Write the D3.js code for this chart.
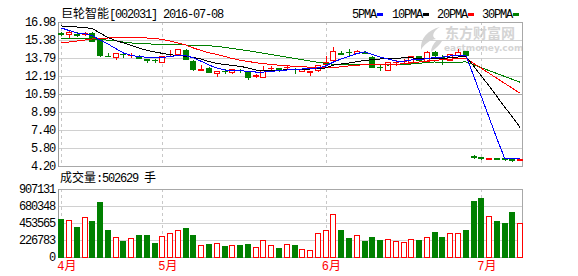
<!DOCTYPE html>
<html>
<head>
<meta charset="utf-8">
<script src="https://cdn.jsdelivr.net/npm/d3@7/dist/d3.min.js"></script>
<style>
  body { margin: 0; background: #fff; }
  svg { display: block; }
  text { font-family: "Liberation Mono", "Noto Sans CJK SC", monospace; font-size: 12px; }
  .num { letter-spacing: -1.2px; }
</style>
</head>
<body>
<div class="chart"></div>
<script>
// daily candles 2016-04-13 .. 2016-07-08 (ex-rights drop on 06-30)
var openP  = [15.97,15.89,15.88,15.95,16.03,15.52,13.94,13.90,14.15,14.02, 14.00,13.67,13.62,13.47,13.94,14.10,14.52,13.55,12.76,12.90,
              12.41,12.65,12.52,12.74,12.54,12.22,12.14,12.88,12.87,12.97, 12.83,12.63,12.58,12.68,13.21,13.61,14.21,14.33,14.23,14.36,
              13.87,13.01,12.75,13.41,13.50,13.43,13.94,13.56,14.36,13.87, 13.65,14.01,14.38,5.06,4.97,4.81,4.93,4.87,4.78,4.76];
var highP  = [16.05,16.18,16.05,16.05,16.09,15.60,14.23,14.22,14.30,14.20, 14.05,13.70,13.70,13.96,14.50,14.60,14.58,13.60,13.12,12.95,
              12.63,12.81,12.80,12.85,12.58,12.37,13.08,13.05,12.88,13.12, 12.90,12.80,12.63,13.20,13.94,14.76,14.38,14.54,14.48,14.40,
              13.92,13.23,13.42,13.61,13.70,14.00,13.97,14.41,14.40,14.01, 14.16,14.56,14.42,5.15,5.00,4.92,4.95,4.90,4.82,4.82];
var lowP   = [15.85,15.65,15.74,15.86,15.29,13.96,13.92,13.74,13.90,13.88, 13.75,13.40,13.45,13.45,13.94,14.05,13.72,12.72,12.76,12.50,
              12.23,12.43,12.48,12.58,11.95,12.10,12.12,12.75,12.63,12.78, 12.45,12.60,12.28,12.65,13.18,13.58,14.14,14.05,14.20,14.22,
              12.99,12.68,12.72,13.16,13.23,13.40,13.60,13.52,13.97,13.25, 13.62,13.99,13.99,4.90,4.86,4.80,4.84,4.75,4.68,4.74];
var closeP = [15.95,16.09,15.86,15.97,15.32,14.05,13.92,14.20,14.12,14.05, 13.79,13.65,13.58,13.94,13.97,14.58,13.74,12.81,12.79,12.54,
              12.61,12.62,12.77,12.71,12.10,12.26,12.68,12.92,12.85,13.01, 12.80,12.78,12.61,13.16,13.43,14.45,14.18,14.30,14.45,14.26,
              13.03,12.98,13.39,13.45,13.53,13.96,13.65,14.32,14.01,13.85, 14.14,14.36,14.03,5.03,4.88,4.88,4.86,4.80,4.76,4.80];
var volume = [511000,494000,405000,534000,485000,738000,365000,267000,218000,253000, 298000,298000,191000,280000,320000,360000,391000,298000,160000,178000,
              187000,151000,160000,160000,178000,133000,227000,160000,125000,173000, 165000,107000,93000,320000,360000,578000,365000,258000,294000,218000,
              271000,231000,240000,218000,205000,240000,231000,267000,338000,271000, 325000,325000,365000,752000,792000,547000,485000,449000,605000,460000];

// moving averages as drawn
var ma5  = [16.45,16.23,16.00,15.94,15.78,15.38,15.03,14.63,14.23,14.01, 13.92,13.85,13.79,13.83,13.92,14.01,14.01,13.79,13.49,13.16,
            12.90,12.72,12.69,12.66,12.60,12.54,12.54,12.59,12.68,12.72, 12.76,12.81,12.85,12.90,13.08,13.43,13.70,13.94,14.18,14.32,
            14.10,13.87,13.70,13.52,13.49,13.61,13.65,13.72,13.83,13.87, 13.96,14.03,14.05,12.23,10.37,8.51,6.64,4.89,4.86,4.84];
var ma10 = [16.63,16.58,16.54,16.49,16.40,16.00,15.60,15.34,15.12,14.89, 14.67,14.47,14.32,14.20,14.07,14.01,13.94,13.83,13.70,13.47,
            13.31,13.21,13.12,13.05,12.90,12.72,12.66,12.68,12.70,12.74, 12.76,12.78,12.81,12.84,12.90,13.16,13.25,13.34,13.46,13.58,
            13.63,13.70,13.74,13.77,13.79,13.79,13.76,13.72,13.70,13.74, 13.81,13.87,13.94,13.08,12.19,11.30,10.37,9.44,8.55,7.60];
var ma20 = [15.12,15.20,15.29,15.38,15.47,15.52,15.56,15.60,15.62,15.62, 15.62,15.56,15.52,15.43,15.29,15.12,14.94,14.67,14.45,14.25,
            14.10,13.92,13.74,13.59,13.48,13.37,13.28,13.21,13.15,13.09, 13.05,13.01,12.97,12.94,12.93,12.94,13.01,13.08,13.14,13.19,
            13.19,13.19,13.21,13.23,13.27,13.34,13.43,13.52,13.58,13.63, 13.68,13.72,13.76,13.31,12.87,12.43,11.98,11.54,11.10,10.65];
var ma30 = [15.49,15.49,15.49,15.48,15.47,15.43,15.37,15.31,15.20,15.12, 15.09,15.05,15.01,14.98,14.97,14.96,14.94,14.91,14.89,14.87,
            14.82,14.73,14.63,14.54,14.43,14.32,14.20,14.10,13.98,13.86, 13.74,13.63,13.52,13.40,13.30,13.23,13.21,13.23,13.23,13.25,
            13.23,13.19,13.16,13.18,13.21,13.25,13.31,13.40,13.43,13.40, 13.39,13.40,13.45,13.19,12.92,12.67,12.41,12.15,11.89,11.63];

var priceTicks = [4.20, 5.80, 7.40, 8.99, 10.59, 12.19, 13.79, 15.38, 16.98];
var volTicks = [0, 226783, 453565, 680348, 907131];
var monthLabels = ["4月", "5月", "6月", "7月"];
var monthStart = [0, 13, 34, 54];

var n = closeP.length;

// dimensions
var width = 578, height = 276;
var plot = {left: 58, right: 522, top: 22, bottom: 166};
var vol = {top: 189, bottom: 257};

var red = "#ff0000", green = "#008000";

// scales
var x = d3.scaleBand().domain(d3.range(n)).range([57.3, 524.1]);
var cx = function(i) { return x(i) + x.bandwidth() / 2; };
var y = d3.scaleLinear().domain([4.20, 16.98]).range([plot.bottom, plot.top]);
var yv = d3.scaleLinear().domain([0, 907131]).range([vol.bottom, vol.top]);
var px = function(v) { return Math.round(v) + 0.5; };

var svg = d3.select(".chart").append("svg")
  .attr("width", width)
  .attr("height", height);

// watermark
var wm = svg.append("g").attr("fill", "#d4d4d4");
wm.append("path")
  .attr("d", "M440,27 C428,30 420,38 421,50 C424,44 430,40 436,39 C431,37 433,31 440,27 Z M437,40 C433,44 431,48 431,52 C436,48 440,45 442,41 Z");
wm.append("text").attr("x", 445).attr("y", 38)
  .style("font-family", "Noto Sans CJK SC").style("font-size", "14px").style("font-weight", "bold")
  .text("东方财富网");
wm.append("text").attr("x", 444).attr("y", 51)
  .style("font-family", "DejaVu Sans").style("font-size", "9px").style("font-weight", "bold")
  .text("eastmoney.com");

// grid lines
var grid = svg.append("g").attr("shape-rendering", "crispEdges");
grid.selectAll(".pg")
  .data(priceTicks.slice(1, -1))
  .enter().append("line")
  .attr("x1", plot.left).attr("x2", plot.right)
  .attr("y1", function(d) { return px(y(d)); })
  .attr("y2", function(d) { return px(y(d)); })
  .attr("stroke", function(d) { return d === 10.59 ? "#a8a8a8" : "#d0d0d0"; });
grid.selectAll(".vg")
  .data(volTicks.slice(1, -1))
  .enter().append("line")
  .attr("x1", plot.left).attr("x2", plot.right)
  .attr("y1", function(d) { return px(yv(d)); })
  .attr("y2", function(d) { return px(yv(d)); })
  .attr("stroke", "#d0d0d0");

// month separators
monthStart.forEach(function(i) {
  [[plot.top, plot.bottom], [vol.top, vol.bottom]].forEach(function(r) {
    grid.append("line")
      .attr("x1", px(cx(i))).attr("x2", px(cx(i)))
      .attr("y1", r[0]).attr("y2", r[1])
      .attr("stroke", "#c8c8c8")
      .attr("stroke-dasharray", "3,3");
  });
});

// frames
[[plot.top, plot.bottom], [vol.top, vol.bottom]].forEach(function(r) {
  grid.append("rect")
    .attr("x", plot.left + 0.5).attr("y", r[0] + 0.5)
    .attr("width", plot.right - plot.left).attr("height", r[1] - r[0])
    .attr("fill", "none").attr("stroke", "#a8a8a8");
  grid.append("line")
    .attr("x1", plot.left + 0.5).attr("x2", plot.left + 0.5)
    .attr("y1", r[0]).attr("y2", r[1] + 1)
    .attr("stroke", "#999").attr("stroke-width", 1.5);
});

// candles
var candles = svg.append("g").attr("shape-rendering", "crispEdges");
d3.range(n).forEach(function(i) {
  var up = closeP[i] > openP[i];
  var col = up ? red : green;
  var c = px(cx(i));
  var yo = Math.round(y(openP[i])), yc = Math.round(y(closeP[i]));
  candles.append("line")
    .attr("x1", c).attr("x2", c)
    .attr("y1", Math.round(y(highP[i]))).attr("y2", Math.round(y(lowP[i])) + 1)
    .attr("stroke", col);
  var top = Math.min(yo, yc), h = Math.abs(yo - yc);
  if (h < 1) {
    candles.append("line")
      .attr("x1", c - 3.5).attr("x2", c + 2.5)
      .attr("y1", top + 0.5).attr("y2", top + 0.5)
      .attr("stroke", col);
  } else if (up) {
    candles.append("rect")
      .attr("x", c - 3).attr("y", top + 0.5)
      .attr("width", 5).attr("height", h)
      .attr("fill", "#fff").attr("stroke", red);
  } else {
    candles.append("rect")
      .attr("x", c - 3.5).attr("y", top)
      .attr("width", 6).attr("height", h + 1)
      .attr("fill", green);
  }
});

// moving average lines
var maLine = d3.line()
  .x(function(d, i) { return cx(i); })
  .y(function(d) { return y(d); });
var maSeries = [
  {name: "30PMA", values: ma30, color: green},
  {name: "20PMA", values: ma20, color: red},
  {name: "10PMA", values: ma10, color: "#000"},
  {name: "5PMA", values: ma5, color: "#0000ff"}
];
svg.append("g").selectAll("path")
  .data(maSeries)
  .enter().append("path")
  .attr("d", function(d) { return maLine(d.values); })
  .attr("fill", "none")
  .attr("stroke", function(d) { return d.color; })
  .attr("stroke-width", 1)
  .attr("shape-rendering", "crispEdges");

// volume bars
var bars = svg.append("g").attr("shape-rendering", "crispEdges");
d3.range(n).forEach(function(i) {
  var up = closeP[i] > openP[i];
  var c = px(cx(i));
  var t = Math.round(yv(volume[i]));
  if (up) {
    bars.append("rect")
      .attr("x", c - 3).attr("y", t + 0.5)
      .attr("width", 5).attr("height", vol.bottom - t)
      .attr("fill", "#fff").attr("stroke", red);
  } else {
    bars.append("rect")
      .attr("x", c - 3.5).attr("y", t)
      .attr("width", 6).attr("height", vol.bottom - t + 1)
      .attr("fill", green);
  }
});

// axes
var priceAxis = svg.append("g")
  .attr("transform", "translate(" + (plot.left - 2) + ",0)")
  .call(d3.axisLeft(y).tickValues(priceTicks).tickSize(0).tickPadding(1).tickFormat(d3.format(".2f")));
var volAxis = svg.append("g")
  .attr("transform", "translate(" + (plot.left - 2) + ",0)")
  .call(d3.axisLeft(yv).tickValues(volTicks).tickSize(0).tickPadding(1).tickFormat(d3.format("d")));
[priceAxis, volAxis].forEach(function(a) {
  a.select(".domain").remove();
  a.selectAll("text")
    .attr("class", "num")
    .attr("fill", "#000")
    .style("font-family", "Liberation Mono")
    .style("font-size", "12px");
});

var monthAxis = svg.append("g")
  .attr("transform", "translate(0," + vol.bottom + ")")
  .call(d3.axisBottom(x).tickValues(monthStart).tickSize(0).tickPadding(4)
    .tickFormat(function(d, i) { return monthLabels[i]; }));
monthAxis.select(".domain").remove();
monthAxis.selectAll("text")
  .attr("fill", red)
  .attr("text-anchor", "start")
  .attr("dx", "-4px")
  .style("font-size", "12px");

// title
var title = svg.append("text").attr("x", 61).attr("y", 18);
title.append("tspan").style("font-family", "Noto Sans CJK SC").text("巨轮智能");
title.append("tspan").attr("class", "num").text("[002031] 2016-07-08");

// volume caption
var cap = svg.append("text").attr("x", 60).attr("y", 182);
cap.append("tspan").style("font-family", "Noto Sans CJK SC").text("成交量");
cap.append("tspan").attr("class", "num").text(":502629 ");
cap.append("tspan").style("font-family", "Noto Sans CJK SC").text("手");

// legend
var legendX = [352, 392, 437, 482];
var legend = svg.append("g");
maSeries.slice().reverse().forEach(function(s, i) {
  legend.append("text")
    .attr("class", "num")
    .attr("x", legendX[i]).attr("y", 18)
    .text(s.name);
  legend.append("rect")
    .attr("x", legendX[i] + s.name.length * 6 + 1).attr("y", 13)
    .attr("width", 6).attr("height", 3)
    .attr("fill", s.color);
});
</script>
</body>
</html>
